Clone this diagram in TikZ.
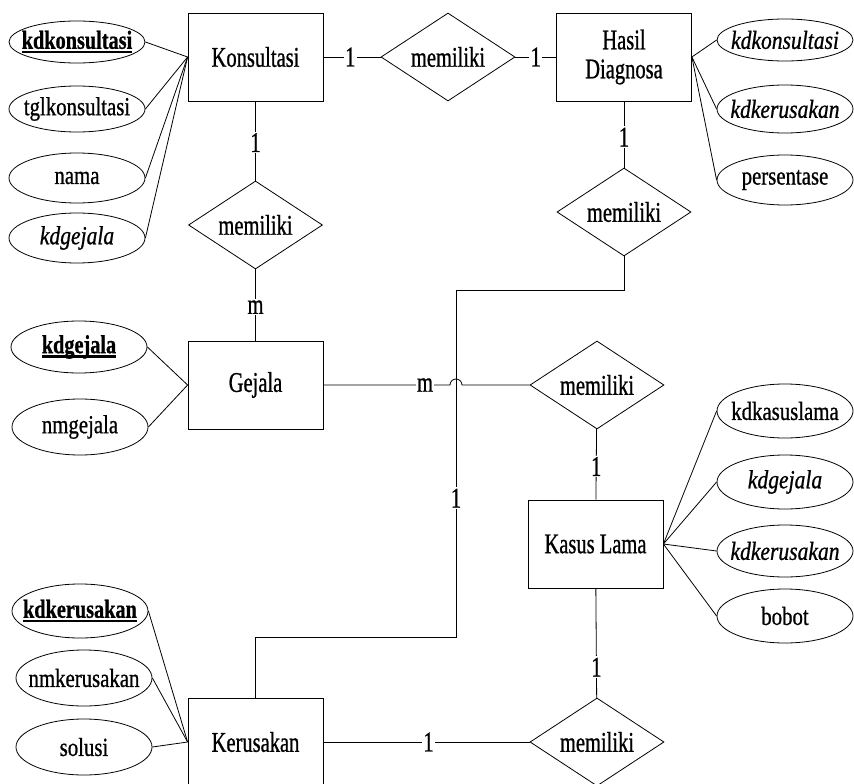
\documentclass[tikz,border=0pt]{standalone}
\usepackage{fontspec}
\setmainfont{Liberation Serif}[FakeStretch=0.72, FakeBold=0.8]
% attribute labels use a slightly smaller, wider cut
\newfontfamily\attrfont{Liberation Serif}[FakeStretch=0.80, FakeBold=0.8, BoldFeatures={FakeStretch=0.78}, ItalicFeatures={FakeStretch=0.83}]
\usetikzlibrary{shapes.geometric}

% bold, thickly underlined primary key
\newcommand\pkey[1]{\setbox0\hbox{\textbf{#1}}\rlap{\rule[-4.5pt]{\wd0}{2.2pt}}\box0}
% attribute text takes no width, so the ellipse keeps its fixed size
\newcommand\attrtext[1]{\makebox[0pt]{#1}}

\begin{document}
\begin{tikzpicture}[x=1pt,y=-1pt,
  every node/.style={font=\fontsize{28.5}{29}\selectfont},
  conn/.style={line width=0.8pt},
  entity/.style={draw, line width=0.8pt, minimum width=135pt, minimum height=88pt, inner sep=0pt, align=center},
  rel/.style={draw, diamond, aspect=1.5, line width=0.8pt, minimum width=134pt, minimum height=88pt, inner sep=0pt},
  attr/.style={draw, ellipse, line width=0.8pt, minimum width=136pt, minimum height=50pt, inner sep=0pt,
    font=\fontsize{26}{27}\attrfont},
  card/.style={fill=white, inner sep=1.5pt},
]
\useasboundingbox (0,0) rectangle (854,784);
\clip (0,0) rectangle (854,784);
\fill[white] (0,0) rectangle (854,784);

% entities
\node[entity] (kons)   at (255.5,57)  {Konsultasi};
\node[entity] (hasil)  at (624,57)    {Hasil\\Diagnosa};
\node[entity] (gejala) at (255.5,385) {Gejala};
\node[entity] (kasus)  at (595.5,544) {Kasus Lama};
\node[entity] (kerus)  at (255.5,742) {Kerusakan};

% relationships
\node[rel] (relKH) at (448,57)    {memiliki};
\node[rel] (relKG) at (255.5,225) {memiliki};
\node[rel] (relHD) at (624,212)   {memiliki};
\node[rel] (relGK) at (597,385)   {memiliki};
\node[rel] (relKK) at (597,742)   {memiliki};

% attributes of Konsultasi
\node[attr, minimum height=42pt] (kA1) at (77,42)  {\attrtext{\pkey{kdkonsultasi}}};
\node[attr, minimum height=46pt] (kA2) at (77,109) {\attrtext{tglkonsultasi}};
\node[attr] (kA3) at (77,178) {\attrtext{nama}};
\node[attr] (kA4) at (77,238) {\attrtext{\textit{kdgejala}}};
% attributes of Gejala
\node[attr, minimum height=52pt] (gA1) at (79,347) {\attrtext{\pkey{kdgejala}}};
\node[attr, minimum height=56pt] (gA2) at (80,427) {\attrtext{nmgejala}};
% attributes of Kerusakan
\node[attr, minimum height=54pt] (rA1) at (80,611)  {\attrtext{\pkey{kdkerusakan}}};
\node[attr, minimum height=56pt] (rA2) at (84,678)  {\attrtext{nmkerusakan}};
\node[attr, minimum height=56pt] (rA3) at (84,747)  {\attrtext{solusi}};
% attributes of Hasil Diagnosa
\node[attr, minimum height=42pt] (hA1) at (785,40)  {\attrtext{\textit{kdkonsultasi}}};
\node[attr, minimum height=48pt] (hA2) at (785,109) {\attrtext{\textit{kdkerusakan}}};
\node[attr] (hA3) at (785,180) {\attrtext{persentase}};
% attributes of Kasus Lama
\node[attr, minimum height=54pt] (sA1) at (785,411) {\attrtext{kdkasuslama}};
\node[attr, minimum height=54pt] (sA2) at (785,482) {\attrtext{\textit{kdgejala}}};
\node[attr, minimum height=52pt] (sA3) at (785,551) {\attrtext{\textit{kdkerusakan}}};
\node[attr, minimum height=54pt] (sA4) at (785,616) {\attrtext{bobot}};

% attribute links
\foreach \a in {kA1,kA2,kA3,kA4} \draw[conn] (\a.east) -- (kons.west);
\foreach \a in {gA1,gA2} \draw[conn] (\a.east) -- (gejala.west);
\foreach \a in {rA1,rA2,rA3} \draw[conn] (\a.east) -- (kerus.west);
\foreach \a in {hA1,hA2,hA3} \draw[conn] (\a.west) -- (hasil.east);
\foreach \a in {sA1,sA2,sA3,sA4} \draw[conn] (\a.west) -- (kasus.east);

% relationship links with cardinalities
\draw[conn] (kons) -- node[card, pos=0.47]{1} (relKH);
\draw[conn] (relKH) -- node[card]{1} (hasil);
\draw[conn] (kons) -- node[card, pos=0.52]{1} (relKG);
\draw[conn] (relKG) -- node[card, pos=0.53]{m} (gejala);
\draw[conn] (hasil) -- node[card, pos=0.54]{1} (relHD);
\draw[conn] (relGK) -- node[card, pos=0.53]{1} (kasus);
\draw[conn] (kasus) -- node[card, pos=0.72]{1} (relKK);
\draw[conn] (kerus) -- node[card, pos=0.51]{1} (relKK);

% Kerusakan to the Hasil Diagnosa relationship
\coordinate (bendLow)  at (456,637);
\coordinate (bendHigh) at (456,290);
\draw[conn] (kerus.north) |- (bendLow) -- node[card, pos=0.40]{1} (bendHigh) -| (relHD.south);

% Gejala to the Kasus Lama relationship, hopping over the vertical line
\coordinate (hopStart) at (450,385);
\draw[conn] (gejala.east) -- (hopStart) arc[start angle=180, end angle=0, radius=6pt] -- (relGK.west);
\node[card] (cardGK) at (425,385) {m};
\end{tikzpicture}
\end{document}
